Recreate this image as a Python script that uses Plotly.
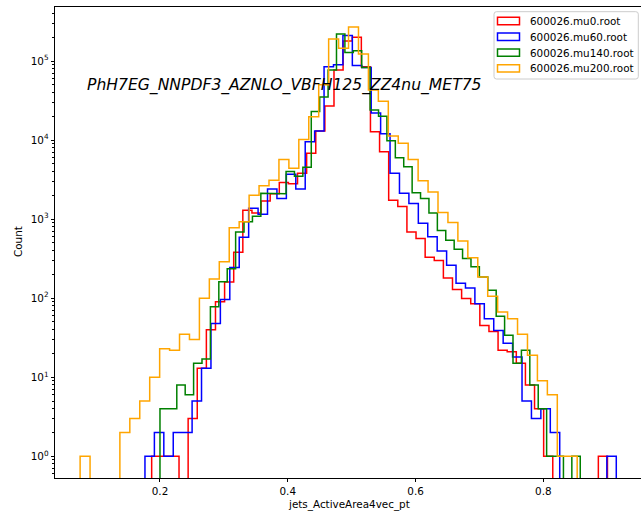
import numpy as np
import plotly.graph_objects as go

# Sample labels and line colours
samples = ["600026.mu0.root", "600026.mu60.root", "600026.mu140.root", "600026.mu200.root"]
colors = ["#ff0000", "#0000ff", "#008000", "#ffa500"]

# Histogram ranges (first and last bin edge) for each sample, 50 bins each
range_mu0 = (0.1870, 0.9004)
range_mu60 = (0.1765, 0.9142)
range_mu140 = (0.2000, 0.8578)
range_mu200 = (0.0750, 0.8530)

# Bin counts
counts_mu0 = [1, 1, 1, 0, 3, 13, 40, 90, 160, 380,
              1300, 1200, 1700, 2100, 2900, 2800, 3800, 6800, 13000, 27000,
              77000, 180000, 200000, 85000, 12800, 7100, 1740, 1450, 690, 570,
              330, 300, 180, 129, 99, 85, 45, 38, 22, 21,
              15, 8, 4, 1, 0, 0, 0, 0, 0, 1]
counts_mu60 = [1, 2, 1, 2, 2, 5, 13, 48, 96, 245,
               590, 1370, 1150, 2400, 1830, 3700, 2400, 9500, 13000, 85000,
               90000, 210000, 88000, 83000, 22000, 12000, 3800, 2130, 1580, 890,
               600, 395, 261, 154, 135, 85, 55, 39, 27, 18,
               5, 3, 4, 2, 0, 0, 0, 0, 0, 1]
counts_mu140 = [4, 4, 8, 6, 15, 17, 78, 161, 236, 690,
                930, 1090, 2130, 2130, 2100, 4000, 3500, 4550, 23000, 35000,
                77000, 220000, 128000, 135000, 83000, 24000, 20000, 9800, 6000, 4600,
                2150, 1820, 1200, 720, 540, 415, 317, 250, 186, 126,
                59, 34, 15, 22, 8, 4, 1, 1, 0, 1]
counts_mu200 = [1, 0, 0, 0, 2, 3, 5, 10, 23, 22,
                35, 30, 100, 175, 290, 780, 930, 2000, 2640, 3100,
                5700, 4400, 10200, 19800, 50000, 190000, 145000, 270000, 123000, 43000,
                31000, 11300, 9100, 5700, 3070, 2200, 1210, 910, 530, 325,
                186, 106, 67, 55, 35, 19, 9, 6, 1, 1]

x_ticks = [0.2, 0.4, 0.6, 0.8]
y_ticks = [1, 10, 100, 1000, 10000, 100000]
y_tick_text = ["10<sup>0</sup>", "10<sup>1</sup>", "10<sup>2</sup>",
               "10<sup>3</sup>", "10<sup>4</sup>", "10<sup>5</sup>"]

x_range = [0.03569, 0.95289]
y_range = [-0.275, 5.684]
floor = 1e-3  # empty bins drop below the visible range, like a clipped step outline

hists = [(range_mu0, counts_mu0), (range_mu60, counts_mu60),
         (range_mu140, counts_mu140), (range_mu200, counts_mu200)]


def step_outline(lo, hi, counts):
    edges = np.linspace(lo, hi, len(counts) + 1)
    xs, ys = [edges[0]], [floor]
    for i, c in enumerate(counts):
        v = c if c > 0 else floor
        xs += [edges[i], edges[i + 1]]
        ys += [v, v]
    xs.append(edges[-1])
    ys.append(floor)
    return xs, ys


fig = go.Figure()
for (rng, cnt), name, col in zip(hists, samples, colors):
    xs, ys = step_outline(rng[0], rng[1], cnt)
    fig.add_trace(go.Scatter(x=xs, y=ys, mode="lines", name=name,
                             line=dict(color=col, width=1.5), showlegend=False))

W, H = 641, 514
ml, mr, mt, mb = 55, 0, 7, 36
pw, ph = W - ml - mr, H - mt - mb


def px(x):
    return (x - ml) / pw


def py(y):
    return (H - mb - y) / ph


font = "DejaVu Sans"
fs = 10.4
shapes, annos = [], []

# Legend frame with rounded corners
x0, x1, y0, y1 = px(494), px(638.3), py(79), py(11.7)
rx, ry = 2.5 / pw, 2.5 / ph
frame = (f"M {x0 + rx},{y0} L {x1 - rx},{y0} Q {x1},{y0} {x1},{y0 + ry} "
         f"L {x1},{y1 - ry} Q {x1},{y1} {x1 - rx},{y1} "
         f"L {x0 + rx},{y1} Q {x0},{y1} {x0},{y1 - ry} "
         f"L {x0},{y0 + ry} Q {x0},{y0} {x0 + rx},{y0} Z")
shapes.append(dict(type="path", xref="paper", yref="paper", path=frame,
                   line=dict(color="#cccccc", width=1), fillcolor="rgba(255,255,255,0.8)"))
row_y = [21.0, 36.8, 52.6, 68.4]
for name, col, yc in zip(samples, colors, row_y):
    shapes.append(dict(type="rect", xref="paper", yref="paper",
                       x0=px(497.5), x1=px(519.5), y0=py(yc + 3.7), y1=py(yc - 3.7),
                       line=dict(color=col, width=1.5), fillcolor="rgba(0,0,0,0)"))
    annos.append(dict(x=px(528), y=py(yc), xref="paper", yref="paper", text=name,
                      showarrow=False, xanchor="left", yanchor="middle",
                      font=dict(family=font, size=fs, color="#000")))

# Sample title inside the axes
annos.append(dict(x=px(85), y=py(86), xref="paper", yref="paper",
                  text="<i>PhH7EG_NNPDF3_AZNLO_VBFH125_ZZ4nu_MET75</i>",
                  showarrow=False, xanchor="left", yanchor="middle",
                  font=dict(family=font, size=15.6, color="#000")))

# Axis titles
annos.append(dict(x=px(349), y=py(504), xref="paper", yref="paper",
                  text="jets_ActiveArea4vec_pt", showarrow=False,
                  xanchor="center", yanchor="middle",
                  font=dict(family=font, size=fs, color="#000")))
annos.append(dict(x=px(18), y=py(242), xref="paper", yref="paper",
                  text="Count", showarrow=False, textangle=-90,
                  xanchor="center", yanchor="middle",
                  font=dict(family=font, size=fs, color="#000")))

minor_vals = [m * 10 ** k for k in range(-1, 6) for m in range(2, 10)]

fig.update_layout(
    width=W, height=H,
    margin=dict(l=ml, r=mr, t=mt, b=mb),
    paper_bgcolor="white", plot_bgcolor="white",
    font=dict(family=font, size=fs, color="#000"),
    shapes=shapes, annotations=annos,
    xaxis=dict(range=x_range, tickvals=x_ticks, ticktext=[f"{v:.1f}" for v in x_ticks],
               ticks="outside", ticklen=3.5, tickwidth=0.8, tickcolor="#000",
               showline=True, linecolor="#000", linewidth=0.8, mirror=True,
               showgrid=False, zeroline=False, tickfont=dict(size=fs)),
    yaxis=dict(type="log", range=y_range, tickvals=y_ticks, ticktext=y_tick_text,
               ticks="outside", ticklen=3.5, tickwidth=0.8, tickcolor="#000",
               showline=True, linecolor="#000", linewidth=0.8, mirror=False,
               showgrid=False, zeroline=False, tickfont=dict(size=fs),
               minor=dict(tickvals=minor_vals, ticks="outside", ticklen=2,
                          tickwidth=0.6, tickcolor="#000", showgrid=False)),
)

fig.write_html("out.html")
